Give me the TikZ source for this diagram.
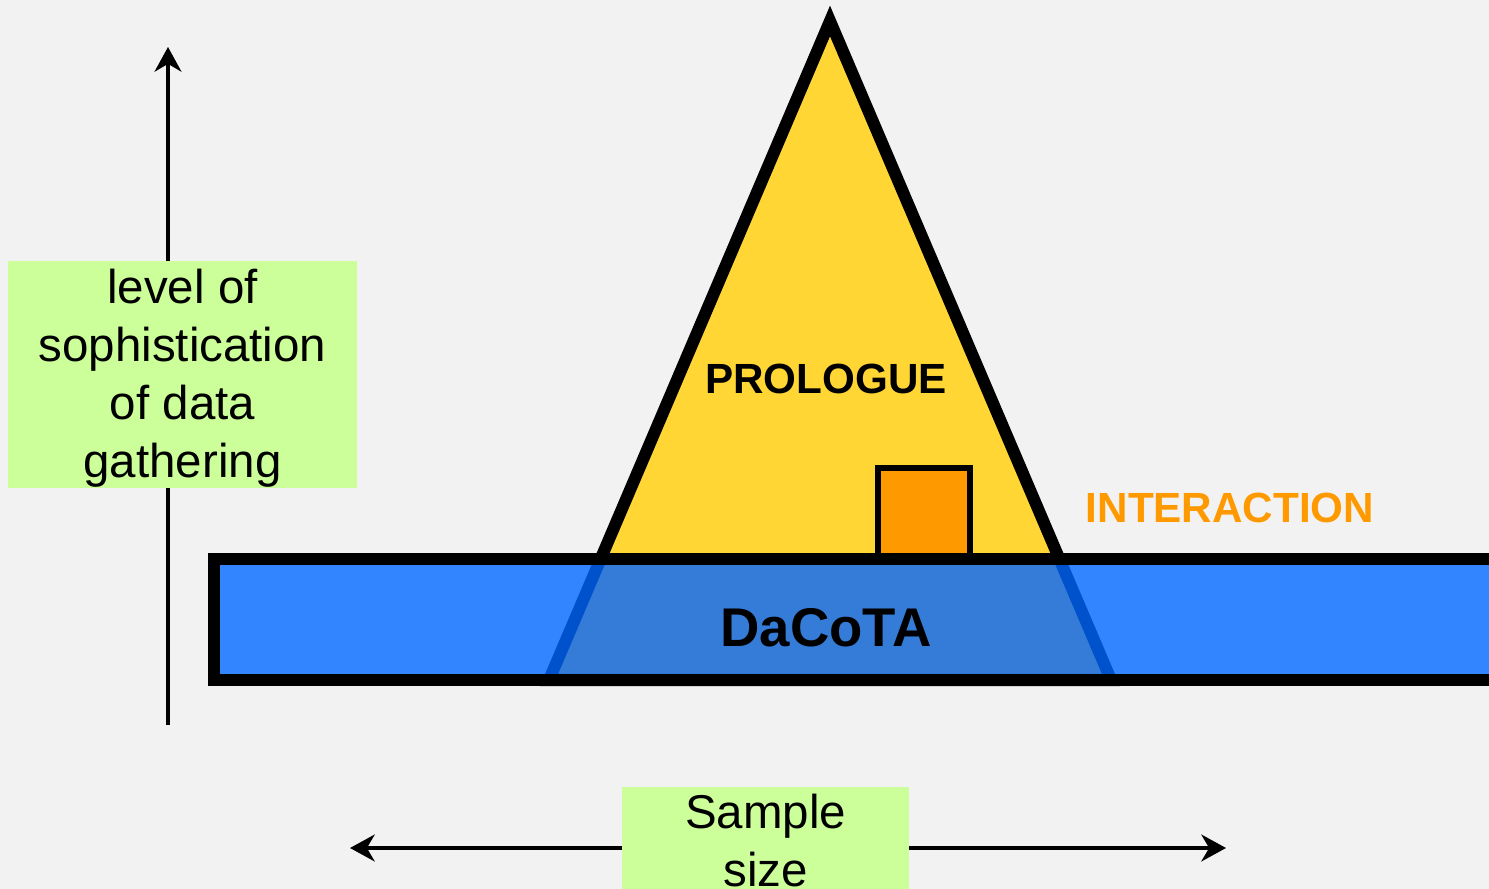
\documentclass[tikz,border=0pt]{standalone}
\usepackage{fontspec}
\setmainfont{Liberation Sans}
\usetikzlibrary{arrows.meta}

\definecolor{bggray}{RGB}{242,242,242}
\definecolor{labelgreen}{RGB}{204,255,153}
\definecolor{pyryellow}{RGB}{255,214,51}
\definecolor{barblue}{RGB}{51,133,255}
\definecolor{overlapblue}{RGB}{52,124,216}
\definecolor{edgeblue}{RGB}{0,82,204}
\definecolor{interorange}{RGB}{255,153,0}

\tikzset{
  axislabel/.style={fill=labelgreen, inner sep=0pt, align=center,
    font=\fontsize{13.5}{16.5}\selectfont},
  axisline/.style={line width=0.04cm},
  axistip/.tip={Stealth[length=7pt,width=7.6pt,inset=2.2pt]},
  heavyline/.style={line width=0.12cm, line join=miter},
  boldlabel/.style={font=\bfseries\fontsize{12}{14}\selectfont}
}

\begin{document}
\begin{tikzpicture}[x=0.01cm,y=-0.01cm]
    % BACKGROUND
    \fill[bggray] (0,0) rectangle (1489,889);
    \useasboundingbox (0,0) rectangle (1489,889);
    % AXES
    \coordinate (ybot) at (168,725);
    \coordinate (ytop) at (168,47);
    \coordinate (xleft) at (350,848);
    \coordinate (xright) at (1226,848);
    \draw[axisline, -axistip] (ybot) -- (ytop);
    \draw[axisline, axistip-axistip] (xleft) -- (xright);
    % PYRAMID
    \coordinate (apex) at (830,21);
    \coordinate (baseL) at (549,680);
    \coordinate (baseR) at (1111,680);
    \filldraw[heavyline, fill=pyryellow] (apex) -- (baseL) -- (baseR) -- cycle;
    % interaction box
    \filldraw[line width=0.06cm, fill=interorange] (878,562) rectangle (970,468);
    % DACOTA BAR
    \fill[barblue] (214,559) rectangle (1500,680);
    \begin{scope}
      \clip (214,559) rectangle (1500,680);
      \filldraw[heavyline, fill=overlapblue, draw=edgeblue]
        (apex) -- (baseL) -- (baseR) -- cycle;
    \end{scope}
    \draw[heavyline] (1500,559) -- (214,559) -- (214,680) -- (1500,680);
    % LABELS
    \node[boldlabel] (prologue) at (826,379) {PROLOGUE};
    \node[boldlabel, text=interorange] (interaction) at (1230,508) {INTERACTION};
    \node[font=\bfseries\fontsize{15.5}{18}\selectfont] (dacota) at (826,628) {DaCoTA};
    \node[axislabel, minimum width=3.49cm, minimum height=2.25cm]
      (ylabel) at (182.5,374.5) {\rule{0pt}{12pt}level of\\sophistication\\of data\\gathering};
    \node[axislabel, minimum width=2.87cm, minimum height=1.08cm]
      (xlabel) at (765.5,841) {Sample\\size};
\end{tikzpicture}
\end{document}
